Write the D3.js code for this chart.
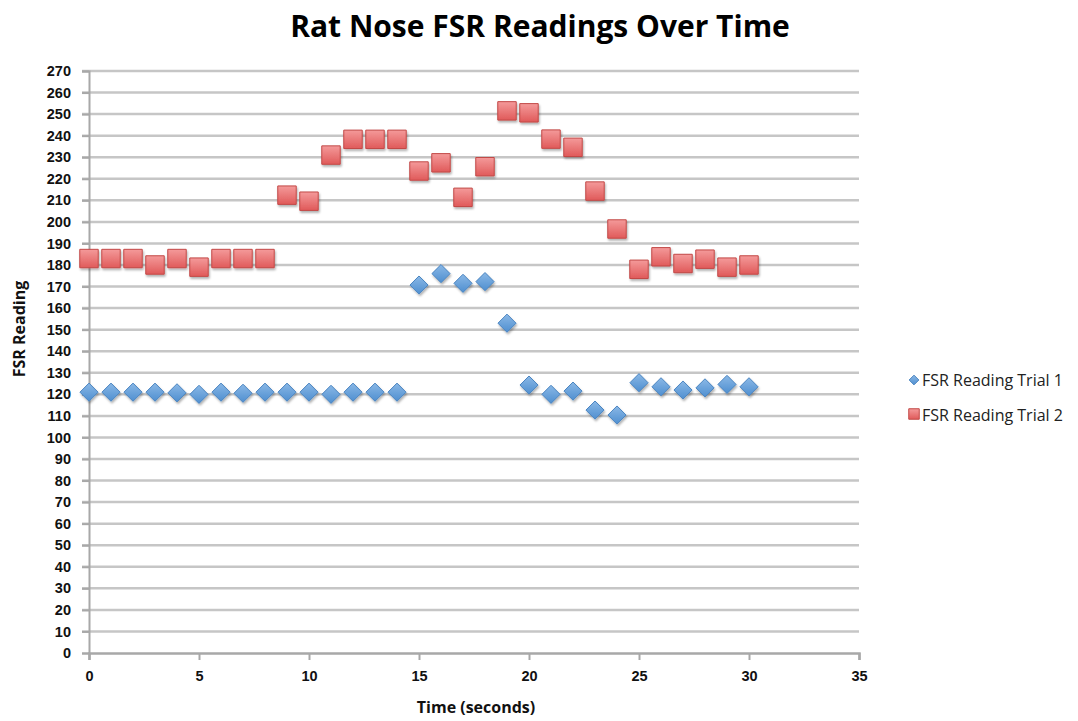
<!DOCTYPE html>
<html lang="en">
<head>
    <meta charset="UTF-8">
    <title>Rat Nose FSR Readings Over Time</title>
    <script src="https://d3js.org/d3.v7.min.js"></script>
    <style>
        body {
            margin: 0;
            background-color: #ffffff;
            font-family: "Open Sans", "Liberation Sans", sans-serif;
        }
        .grid-line {
            stroke: #c6c6c6;
            stroke-width: 2.5;
        }
        .tick-label {
            font-size: 14.5px;
            font-weight: bold;
            fill: #111;
        }
        .axis-title {
            font-size: 16px;
            font-weight: bold;
            fill: #111;
        }
        .legend-text {
            font-size: 16px;
            fill: #222;
        }
    </style>
</head>
<body>

<svg id="chart" width="1078" height="721"></svg>

<script>
    // Daten
    const seconds = d3.range(0, 31);
    const trial1 = [121, 121, 121, 121, 120.7, 120, 121, 120.5, 121, 121, 121, 120, 121, 121, 121,
                    170.7, 176, 171.5, 172.3, 153, 124.3, 120, 121.5, 112.7, 110.4,
                    125.4, 123.5, 122, 123, 124.6, 123.5];
    const trial2 = [183, 183, 183, 180, 183, 179, 183, 183, 183, 212.4, 209.6, 231, 238.3, 238.3, 238.3,
                    223.6, 227.4, 211.4, 225.6, 251.5, 250.6, 238.4, 234.6, 214.3, 196.7,
                    178, 183.8, 180.7, 182.7, 179, 180];
    const yTicks = d3.range(0, 271, 10);
    const xTicks = [0, 5, 10, 15, 20, 25, 30, 35];
    const seriesNames = ["FSR Reading Trial 1", "FSR Reading Trial 2"];

    const svg = d3.select("#chart");
    const x = d3.scaleLinear().domain([0, 35]).range([89, 859]);
    const y = d3.scaleLinear().domain([0, 270]).range([653, 71]);

    // Verläufe und Schatten
    const defs = svg.append("defs");
    const gBlue = defs.append("linearGradient").attr("id", "gBlue")
        .attr("x1", 0).attr("y1", 0).attr("x2", 0).attr("y2", 1);
    gBlue.append("stop").attr("offset", "0%").attr("stop-color", "#8ab8e6");
    gBlue.append("stop").attr("offset", "100%").attr("stop-color", "#4f8fd0");
    const gRed = defs.append("linearGradient").attr("id", "gRed")
        .attr("x1", 0).attr("y1", 0).attr("x2", 0).attr("y2", 1);
    gRed.append("stop").attr("offset", "0%").attr("stop-color", "#f49a9a");
    gRed.append("stop").attr("offset", "100%").attr("stop-color", "#e05a5a");
    const shadow = defs.append("filter").attr("id", "shadow")
        .attr("x", "-30%").attr("y", "-30%").attr("width", "170%").attr("height", "170%");
    shadow.append("feDropShadow").attr("dx", 1).attr("dy", 2).attr("stdDeviation", 1.2)
        .attr("flood-color", "#000").attr("flood-opacity", 0.3);

    // Titel
    svg.append("text")
        .attr("x", 540).attr("y", 37)
        .attr("text-anchor", "middle")
        .attr("font-size", "30px").attr("font-weight", "bold")
        .attr("fill", "#000")
        .text("Rat Nose FSR Readings Over Time");

    // Gitterlinien
    svg.selectAll(".grid-line").data(yTicks.slice(1)).enter().append("line")
        .attr("class", "grid-line")
        .attr("x1", 82).attr("x2", x(35))
        .attr("y1", d => y(d)).attr("y2", d => y(d));

    // Y-Achse
    const yAxis = svg.append("g").attr("transform", `translate(${x(0)},0)`)
        .call(d3.axisLeft(y).tickValues(yTicks).tickSize(7).tickPadding(11));
    yAxis.select(".domain").attr("stroke", "#a8a8a8").attr("stroke-width", 2);
    yAxis.selectAll(".tick line").attr("stroke", "#a8a8a8").attr("stroke-width", 2);
    yAxis.selectAll(".tick text").attr("class", "tick-label").attr("font-family", null).attr("font-size", null);

    // X-Achse
    const xAxis = svg.append("g").attr("transform", `translate(0,${y(0)})`)
        .call(d3.axisBottom(x).tickValues(xTicks).tickSize(7).tickPadding(11));
    xAxis.select(".domain").attr("stroke", "#a8a8a8").attr("stroke-width", 2.5);
    xAxis.selectAll(".tick line").attr("stroke", "#a8a8a8").attr("stroke-width", 2);
    xAxis.selectAll(".tick text").attr("class", "tick-label").attr("font-family", null).attr("font-size", null);

    // Achsentitel
    svg.append("text")
        .attr("class", "axis-title")
        .attr("x", 476).attr("y", 713)
        .attr("text-anchor", "middle")
        .text("Time (seconds)");
    svg.append("text")
        .attr("class", "axis-title")
        .attr("transform", "translate(25,329) rotate(-90)")
        .attr("text-anchor", "middle")
        .text("FSR Reading");

    const diamond = d3.symbol().type(d3.symbolDiamond2).size(210);
    const square = d3.symbol().type(d3.symbolSquare).size(340);

    // Serie 1: Rauten
    svg.append("g").selectAll("path").data(seconds).enter().append("path")
        .attr("d", diamond)
        .attr("transform", d => `translate(${x(d)},${y(trial1[d])})`)
        .attr("fill", "url(#gBlue)")
        .attr("stroke", "#4a84c0").attr("stroke-width", 1)
        .attr("filter", "url(#shadow)");

    // Serie 2: Quadrate
    svg.append("g").selectAll("path").data(seconds).enter().append("path")
        .attr("d", square)
        .attr("transform", d => `translate(${x(d)},${y(trial2[d])})`)
        .attr("fill", "url(#gRed)")
        .attr("stroke", "#c24846").attr("stroke-width", 1)
        .attr("filter", "url(#shadow)");

    // Legende
    const legend = svg.append("g");
    legend.append("path")
        .attr("d", d3.symbol().type(d3.symbolDiamond2).size(60))
        .attr("transform", "translate(914,380)")
        .attr("fill", "url(#gBlue)").attr("stroke", "#4a84c0");
    legend.append("path")
        .attr("d", d3.symbol().type(d3.symbolSquare).size(110))
        .attr("transform", "translate(914,414)")
        .attr("fill", "url(#gRed)").attr("stroke", "#c24846");
    legend.selectAll("text").data(seriesNames).enter().append("text")
        .attr("class", "legend-text")
        .attr("x", 922)
        .attr("y", (d, i) => 386 + i * 34.5)
        .text(d => d);
</script>

</body>
</html>
